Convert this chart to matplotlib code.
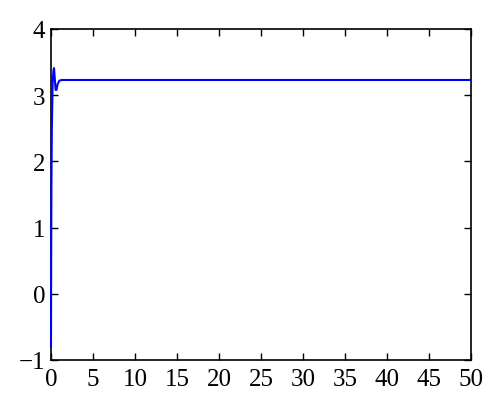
import numpy as np
import matplotlib.pyplot as plt

# response curve
t = [0, 0.02, 0.05, 0.1, 0.2, 0.3, 0.36, 0.45, 0.55, 0.65, 0.8, 1.0, 1.3, 50]
y = [-0.8, 0.5, 1.6, 2.5, 3.2, 3.38, 3.41, 3.25, 3.08, 3.08, 3.17, 3.22, 3.23, 3.23]

xticks = list(range(0, 51, 5))
yticks = [-1, 0, 1, 2, 3, 4]

plt.rcParams['font.family'] = ['Liberation Serif', 'DejaVu Serif']

fig = plt.figure(figsize=(5, 4.14), dpi=100)
ax = fig.add_axes([51/500, 1 - 361/414, 420/500, 331/414])
ax.plot(t, y, color='#0000ff', linewidth=1.5, zorder=5, clip_on=False)
ax.set_xlim(0, 50)
ax.set_ylim(-1, 4)
ax.set_xticks(xticks)
ax.set_yticks(yticks)
ax.set_yticklabels(['\u22121' if v < 0 else str(v) for v in yticks])
ax.tick_params(direction='in', top=True, right=True, labelsize=18, length=5, width=1, pad=4)
ax.tick_params(axis='x', pad=6)
for s in ax.spines.values():
    s.set_linewidth(1.2)

fig.savefig('out.png', dpi=100)
